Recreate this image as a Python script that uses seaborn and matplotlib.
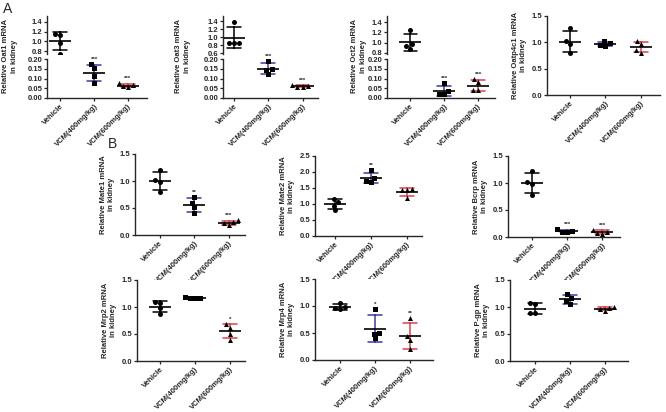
import numpy as np
import pandas as pd
import seaborn as sns
import matplotlib.pyplot as plt
from matplotlib.ticker import FormatStrFormatter

# groups and styling
groups = ['Vehicle', 'VCM(400mg/kg)', 'VCM(600mg/kg)']
colors = ['black', '#3a3a9c', '#d9434b']
markers = ['o', 's', '^']

# relative mRNA values (4 animals per group)
oat1 = [[1.16, 1.12, 0.97, 0.75], [0.173, 0.152, 0.112, 0.077], [0.075, 0.065, 0.060, 0.055]]
oat3 = [[1.38, 0.86, 0.85, 0.84], [0.188, 0.148, 0.146, 0.122], [0.066, 0.061, 0.057, 0.058]]
oct2 = [[1.25, 0.97, 0.93, 0.88], [0.075, 0.036, 0.021, 0.020], [0.095, 0.080, 0.040, 0.041]]
oatp4c1 = [[1.27, 1.02, 0.97, 0.80], [1.02, 0.98, 0.95, 0.93], [1.02, 0.96, 0.85, 0.80]]
mate1 = [[1.20, 1.02, 0.98, 0.79], [0.71, 0.59, 0.51, 0.40], [0.27, 0.24, 0.22, 0.18]]
mate2 = [[1.17, 1.05, 0.95, 0.80], [2.05, 1.82, 1.72, 1.70], [1.46, 1.45, 1.44, 1.20]]
bcrp = [[1.22, 1.02, 0.98, 0.77], [0.14, 0.12, 0.10, 0.09], [0.13, 0.10, 0.08, 0.05]]
mrp2 = [[1.09, 1.08, 0.98, 0.87], [1.17, 1.16, 1.17, 1.18], [0.68, 0.62, 0.50, 0.39]]
mrp4 = [[1.05, 0.98, 0.96, 0.94], [0.94, 0.50, 0.49, 0.40], [0.78, 0.45, 0.37, 0.20]]
pgp = [[1.07, 1.05, 0.88, 0.88], [1.24, 1.17, 1.12, 1.05], [1.00, 0.98, 0.96, 0.93]]

stars_oat1 = ['', '***', '***']
stars_oat3 = ['', '***', '***']
stars_oct2 = ['', '***', '***']
stars_oatp4c1 = ['', '', '']
stars_mate1 = ['', '**', '***']
stars_mate2 = ['', '**', '']
stars_bcrp = ['', '***', '***']
stars_mrp2 = ['', '', '*']
stars_mrp4 = ['', '*', '**']
stars_pgp = ['', '', '']

sns.set_style('ticks')
plt.rcParams['font.family'] = ['Liberation Sans', 'DejaVu Sans']
plt.rcParams['font.weight'] = 'bold'
plt.rcParams['axes.linewidth'] = 1.0

W, H = 666, 412
fig = plt.figure(figsize=(W / 100, H / 100), dpi=100)


def add_ax(x0, y0, x1, y1):
    return fig.add_axes([x0 / W, 1 - y1 / H, (x1 - x0) / W, (y1 - y0) / H])


def to_df(vals):
    return pd.DataFrame({'group': np.repeat(groups, 4), 'value': np.concatenate(vals)})


def draw(ax, vals, stars=None):
    df = to_df(vals)
    for g, m in zip(groups, markers):
        sns.swarmplot(data=df[df.group == g], x='group', y='value', order=groups,
                      marker=m, color='black', size=3.6, ax=ax)
    sns.pointplot(data=df, x='group', y='value', order=groups, hue='group', hue_order=groups,
                  palette=colors, errorbar='sd', capsize=0.4, marker='', linestyle='none',
                  err_kws={'linewidth': 1.1}, legend=False, ax=ax)
    sns.pointplot(data=df, x='group', y='value', order=groups, errorbar=None, color='black',
                  marker='_', markersize=16, markeredgewidth=1.2, linestyle='none', ax=ax)
    if stars:
        for i, g in enumerate(groups):
            if not stars[i]:
                continue
            v = df[df.group == g]['value']
            top = max(v.mean() + v.std(), v.max())
            ax.annotate(stars[i], (i, top), xytext=(0, 1.5), textcoords='offset points',
                        ha='center', va='bottom', fontsize=4.5, fontweight='bold')


def style(ax, ylim, yticks, xlim, fmt, show_x=True):
    ax.set_ylim(ylim)
    ax.set_yticks(yticks)
    ax.set_xlim(xlim)
    ax.yaxis.set_major_formatter(FormatStrFormatter(fmt))
    ax.set_xlabel('')
    ax.set_ylabel('')
    sns.despine(ax=ax, bottom=not show_x)
    ax.tick_params(length=2.5, width=0.9, labelsize=5.5, pad=1)
    if show_x:
        ax.set_xticks(range(3))
        ax.set_xticklabels(groups, rotation=45, ha='right', rotation_mode='anchor')
    else:
        ax.set_xticks([])


# ---- panel A: broken-axis charts ----
broken = [
    (oat1, stars_oat1, 'Relative Oat1 mRNA\nin kidney', (47, 147), (-0.39, 2.56), (0.74, 1.52), np.arange(0.8, 1.41, 0.2), 10),
    (oat3, stars_oat3, 'Relative Oat3 mRNA\nin kidney', (223, 318), (-0.32, 2.45), (0.575, 1.525), np.arange(0.6, 1.41, 0.2), 183),
    (oct2, stars_oct2, 'Relative Oct2 mRNA\nin kidney', (387, 495), (-0.69, 2.5), (0.78, 1.52), np.arange(0.8, 1.41, 0.2), 359),
]
for vals, st, label, (x0, x1), xl, top_lim, top_ticks, lx in broken:
    ax_top = add_ax(x0, 16, x1, 54)
    ax_bot = add_ax(x0, 59, x1, 98)
    draw(ax_top, vals)
    draw(ax_bot, vals, st)
    style(ax_top, top_lim, top_ticks, xl, '%.1f', show_x=False)
    style(ax_bot, (0, 0.2), np.arange(0, 0.201, 0.05), xl, '%.2f')
    fig.text(lx / W, 1 - 56 / H, label, rotation=90, ha='center', va='center',
             fontsize=5.5, fontweight='bold', linespacing=1.3)

# ---- regular panels ----
panels = [
    (oatp4c1, stars_oatp4c1, 'Relative Oatp4c1 mRNA\nin kidney', (547, 16, 660, 95), (-0.66, 2.55), (0, 1.5), np.arange(0, 1.51, 0.5)),
    (mate1, stars_mate1, 'Relative Mate1 mRNA\nin kidney', (135, 154, 245, 235), (-0.71, 2.46), (0, 1.5), np.arange(0, 1.51, 0.5)),
    (mate2, stars_mate2, 'Relative Mate2 mRNA\nin kidney', (315, 156, 422, 236), (-0.56, 2.42), (0, 2.5), np.arange(0, 2.51, 0.5)),
    (bcrp, stars_bcrp, 'Relative Bcrp mRNA\nin kidney', (508, 156, 620, 237), (-0.69, 2.5), (0, 1.5), np.arange(0, 1.51, 0.5)),
    (mrp2, stars_mrp2, 'Relative Mrp2 mRNA\nin kidney', (137, 280, 245, 361), (-0.66, 2.43), (0, 1.5), np.arange(0, 1.51, 0.5)),
    (mrp4, stars_mrp4, 'Relative Mrp4 mRNA\nin kidney', (315, 279, 433, 360), (-0.71, 2.66), (0, 1.5), np.arange(0, 1.51, 0.5)),
    (pgp, stars_pgp, 'Relative P-gp mRNA\nin kidney', (510, 280, 628, 361), (-0.71, 2.66), (0, 1.5), np.arange(0, 1.51, 0.5)),
]
for vals, st, label, rect, xl, yl, yt in panels:
    ax = add_ax(*rect)
    draw(ax, vals, st)
    style(ax, yl, yt, xl, '%.1f')
    ax.set_ylabel(label, fontsize=5.5, fontweight='bold', labelpad=3, linespacing=1.3)

fig.text(3 / W, 1 - 9 / H, 'A', fontsize=10, ha='left', va='center', fontweight='normal')
fig.text(108 / W, 1 - 144 / H, 'B', fontsize=10, ha='left', va='center', fontweight='normal')

fig.savefig('out.png', dpi=100, facecolor='white')
